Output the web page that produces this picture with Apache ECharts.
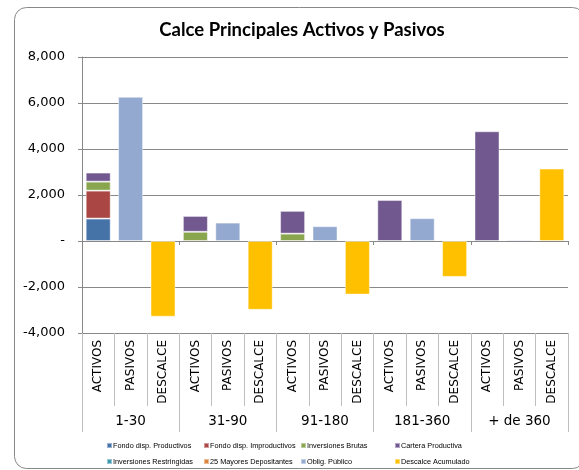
<!DOCTYPE html>
<html><head><meta charset="utf-8">
<script src="https://cdn.jsdelivr.net/npm/echarts@6/dist/echarts.min.js"></script>
<style>html,body{margin:0;padding:0;background:#fff}#c{width:579px;height:470px}</style>
</head><body><div id="c"></div>
<script>
var categories = ['ACTIVOS','PASIVOS','DESCALCE','ACTIVOS','PASIVOS','DESCALCE','ACTIVOS','PASIVOS','DESCALCE','ACTIVOS','PASIVOS','DESCALCE','ACTIVOS','PASIVOS','DESCALCE'];
var groups = ['1-30','31-90','91-180','181-360','+ de 360'];
var yTicks = [-4000,-2000,0,2000,4000,6000,8000];

var fondoProd    = [975,null,null, null,null,null, null,null,null, null,null,null, null,null,null];
var fondoImprod  = [1215,null,null, null,null,null, null,null,null, null,null,null, null,null,null];
var invBrutas    = [390,null,null, 400,null,null, 320,null,null, null,null,null, null,null,null];
var cartera      = [395,null,null, 690,null,null, 990,null,null, 1780,null,null, 4770,null,null];
var invRestr     = [null,null,null, null,null,null, null,null,null, null,null,null, null,null,null];
var mayores25    = [null,null,null, null,null,null, null,null,null, null,null,null, null,null,null];
var obligPublico = [null,6270,null, null,800,null, null,643,null, null,993,null, null,60,null];
var descalce     = [null,null,-3290, null,null,-2990, null,null,-2330, null,null,-1560, null,null,3150];

var seriesDefs = [
  ['Fondo disp. Productivos', fondoProd, '#4572A7'],
  ['Fondo disp. Improductivos', fondoImprod, '#AA4643'],
  ['Inversiones Brutas', invBrutas, '#89A54E'],
  ['Cartera Productiva', cartera, '#71588F'],
  ['Inversiones Restringidas', invRestr, '#4198AF'],
  ['25 Mayores Depositantes', mayores25, '#DB843D'],
  ['Oblig. Público', obligPublico, '#93A9CF'],
  ['Descalce Acumulado', descalce, '#FFC000']
];

var chart = echarts.init(document.getElementById('c'));
var legendFont = {fontFamily:'Liberation Sans', fontSize:7.3, color:'#000', padding:[0,0,0,-4]};
var legendCols = [106, 203, 300, 394];
var legendRows = [442, 458];
var legends = seriesDefs.map(function(s, i){
  var col = i % 4, row = Math.floor(i / 4);
  return {left:legendCols[col], top:legendRows[row], padding:0, itemWidth:5, itemHeight:5,
    icon:'rect', textStyle:legendFont, data:[s[0]], selectedMode:false};
});
var option = {
  animation:false,
  title:{text:'Calce Principales Activos y Pasivos', left:297, textAlign:'center', top:16,
    textStyle:{fontFamily:'Lato', fontWeight:'bold', fontSize:18.5, color:'#000'}},
  graphic:[{type:'rect', shape:{x:14.5, y:7.5, width:570, height:461, r:12},
    style:{fill:'none', stroke:'#888', lineWidth:1}, silent:true}],
  legend:legends,
  grid:{left:82, right:11, top:57, bottom:137},
  xAxis:[
    {type:'category', data:categories, axisLine:{onZero:true, lineStyle:{color:'#888'}},
      axisTick:{show:true, length:4, lineStyle:{color:'#888'}}, axisLabel:{show:false}},
    {type:'category', data:categories, position:'bottom',
      axisLine:{onZero:false, lineStyle:{color:'#888'}},
      axisTick:{show:true, length:73, interval:0, lineStyle:{color:'#BFBFBF'}},
      axisLabel:{show:true, rotate:90, interval:0, margin:7,
        fontFamily:'DejaVu Sans', fontSize:12, color:'#000'}},
    {type:'category', data:groups, position:'bottom',
      axisLine:{show:false, onZero:false},
      axisTick:{show:true, length:99, interval:0, lineStyle:{color:'#BFBFBF'}},
      axisLabel:{show:true, interval:0, margin:81,
        fontFamily:'DejaVu Sans', fontSize:13.5, color:'#000'}}
  ],
  yAxis:{type:'value', min:-4000, max:8000, interval:2000,
    axisLine:{show:true, lineStyle:{color:'#888'}},
    axisTick:{show:true, length:4, lineStyle:{color:'#888'}},
    splitLine:{lineStyle:{color:'#888'}},
    axisLabel:{margin:17, fontFamily:'DejaVu Sans', fontSize:13, color:'#000',
      formatter:function(v){ return v===0 ? '-' : v.toLocaleString('en-US'); }}},
  series: seriesDefs.map(function(s){
    return {name:s[0], type:'bar', stack:'total', data:s[1], barWidth:25, xAxisIndex:0,
      itemStyle:{color:s[2], borderColor:'rgba(255,255,255,0.45)', borderWidth:1}};
  })
};
chart.setOption(option);
</script></body></html>
